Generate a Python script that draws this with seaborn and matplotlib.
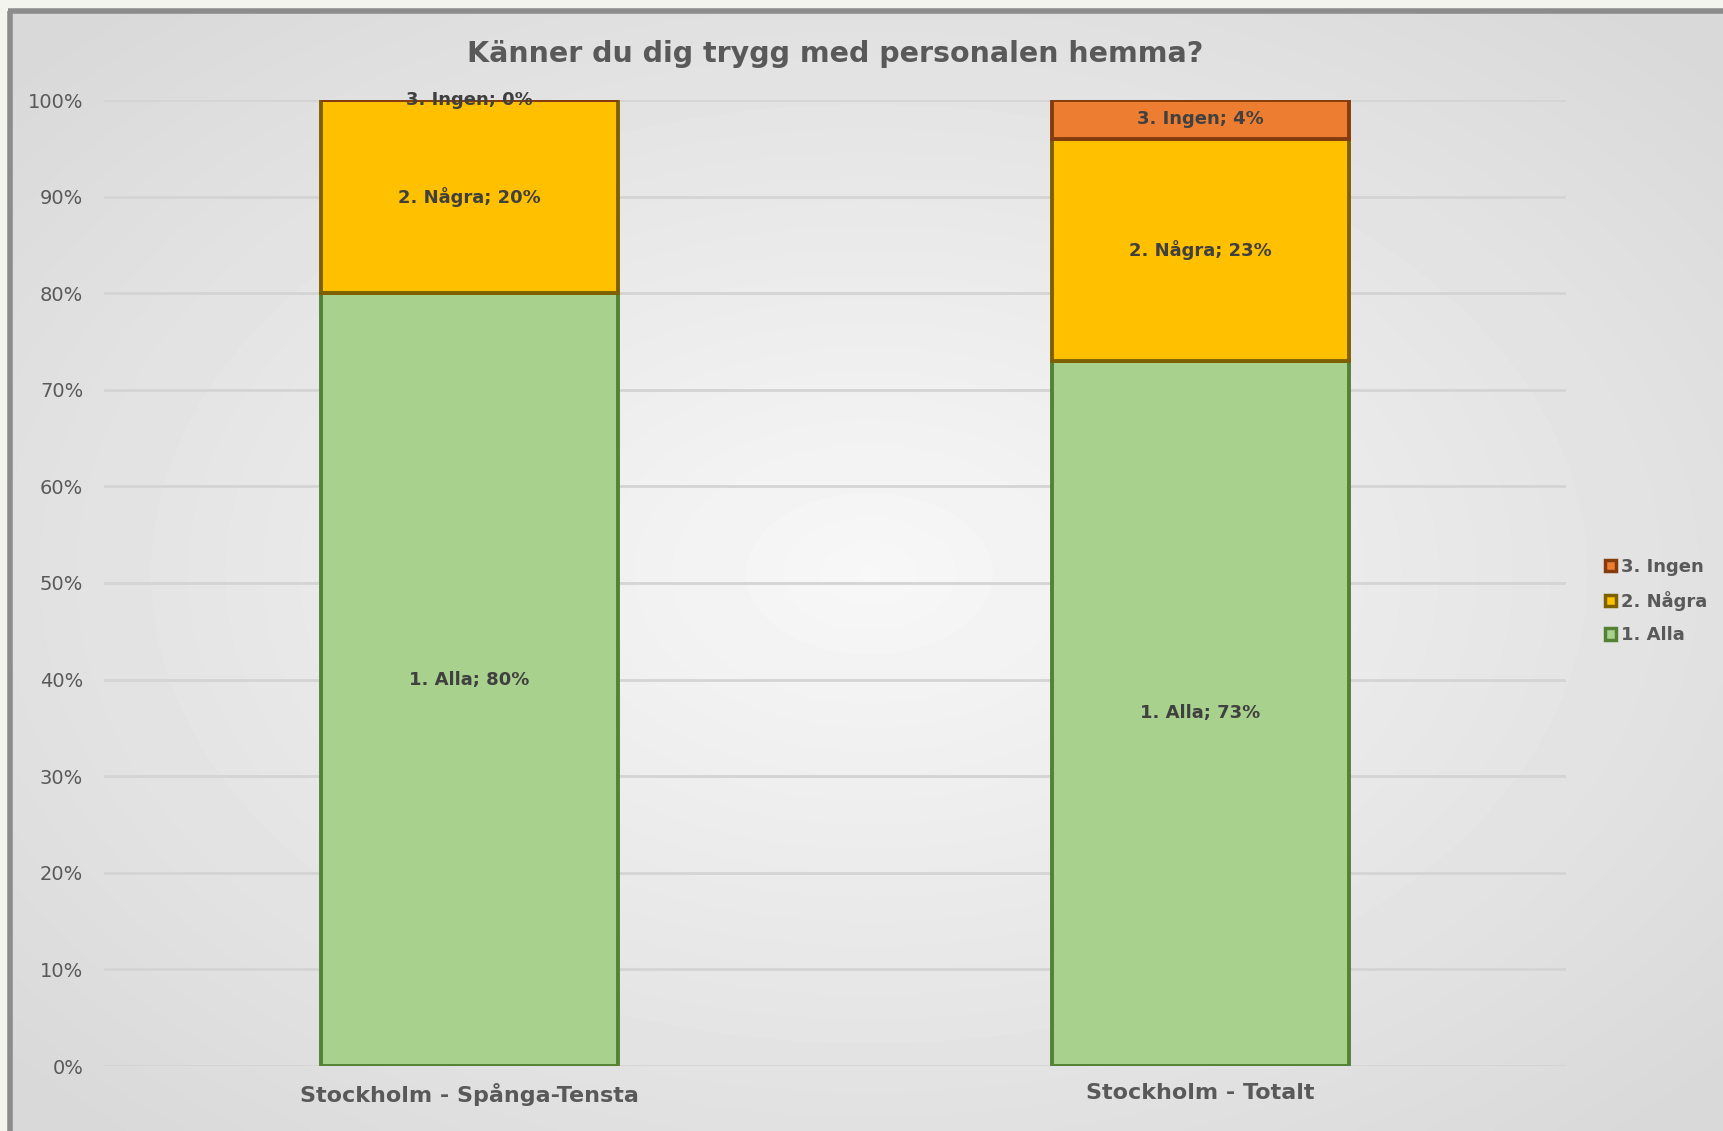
import numpy as np
import pandas as pd
import matplotlib
matplotlib.use("Agg")
import matplotlib.pyplot as plt
import seaborn as sns
from matplotlib.patches import Patch

# Data
categories = ["Stockholm - Spånga-Tensta", "Stockholm - Totalt"]
series = ["1. Alla", "2. Några", "3. Ingen"]
alla = [80, 73]
nagra = [20, 23]
ingen = [0, 4]
yticks = [0, 10, 20, 30, 40, 50, 60, 70, 80, 90, 100]

fills = ["#A9D18E", "#FFC000", "#ED7D31"]
edges = ["#548235", "#7F6000", "#843C0C"]
text_dark = "#404040"
text_gray = "#595959"

sns.set_theme(style="white")
plt.rcParams["font.family"] = ["DejaVu Sans"]

W, H = 1723, 1131
fig = plt.figure(figsize=(W / 100, H / 100), dpi=100)
fig.patch.set_facecolor("#F4F4EF")

# background: radial light-gray gradient inside a gray frame
bg = fig.add_axes([0, 0, 1, 1], zorder=-2)
bg.axis("off")
yy, xx = np.mgrid[0:200, 0:300]
r = np.sqrt(((xx - 150) / 150) ** 2 + ((yy - 100) / 100) ** 2)
grad = np.clip(0.97 - 0.09 * r, 0.85, 1.0)
bg.imshow(grad, cmap="gray", vmin=0, vmax=1, extent=[10, W, H, 11],
          aspect="auto", interpolation="bicubic")
bg.plot([10, 10], [H, 11], color="#8C8C8C", lw=4, solid_capstyle="butt")
bg.plot([8, W], [11, 11], color="#8C8C8C", lw=4, solid_capstyle="butt")
bg.set_xlim(0, W)
bg.set_ylim(H, 0)

ax = fig.add_axes([104 / W, 1 - 1066 / H, (1566 - 104) / W, (1066 - 100) / H])
ax.set_facecolor("none")

df = pd.DataFrame({"cat": categories, "1. Alla": alla, "2. Några": nagra, "3. Ingen": ingen})
bottom = np.zeros(len(categories))
for s, fc, ec in zip(series, fills, edges):
    vals = df[s].to_numpy(dtype=float)
    sns.barplot(x=df["cat"], y=vals, bottom=bottom, color=fc, edgecolor=ec,
                linewidth=2.8, width=0.405, saturation=1, ax=ax, zorder=3)
    for i, v in enumerate(vals):
        ax.text(i, bottom[i] + v / 2, f"{s}; {v:.0f}%", ha="center", va="center",
                fontsize=13, fontweight="bold", color=text_dark, zorder=5)
    bottom = bottom + vals

ax.set_xlim(-0.5, 1.5)
ax.set_ylim(0, 100)
ax.set_yticks(yticks)
ax.set_yticklabels([f"{t}%" for t in yticks], fontsize=14, color=text_gray)
ax.tick_params(axis="y", length=0, pad=15)
ax.tick_params(axis="x", length=0, pad=12)
for lbl in ax.get_xticklabels():
    lbl.set_fontsize(16)
    lbl.set_fontweight("bold")
    lbl.set_color(text_gray)
ax.set_xlabel("")
ax.set_ylabel("")
ax.grid(axis="y", color="#D4D4D4", lw=2, zorder=0)
ax.set_axisbelow(True)
sns.despine(ax=ax, left=True, bottom=True)

ax.set_title("Känner du dig trygg med personalen hemma?", fontsize=20.5,
             fontweight="bold", color=text_gray, pad=27)

handles = [Patch(facecolor=fc, edgecolor=ec, linewidth=2.5, label=s)
           for s, fc, ec in zip(series, fills, edges)][::-1]
leg = fig.legend(handles=handles, loc="center left", bbox_to_anchor=(1598 / W, 1 - 601 / H),
                 frameon=False, fontsize=13, handlelength=0.6, handleheight=0.6,
                 handletextpad=0.3, labelspacing=0.85, borderaxespad=0)
for t in leg.get_texts():
    t.set_color(text_gray)
    t.set_fontweight("bold")

fig.savefig("out.png", dpi=100)
